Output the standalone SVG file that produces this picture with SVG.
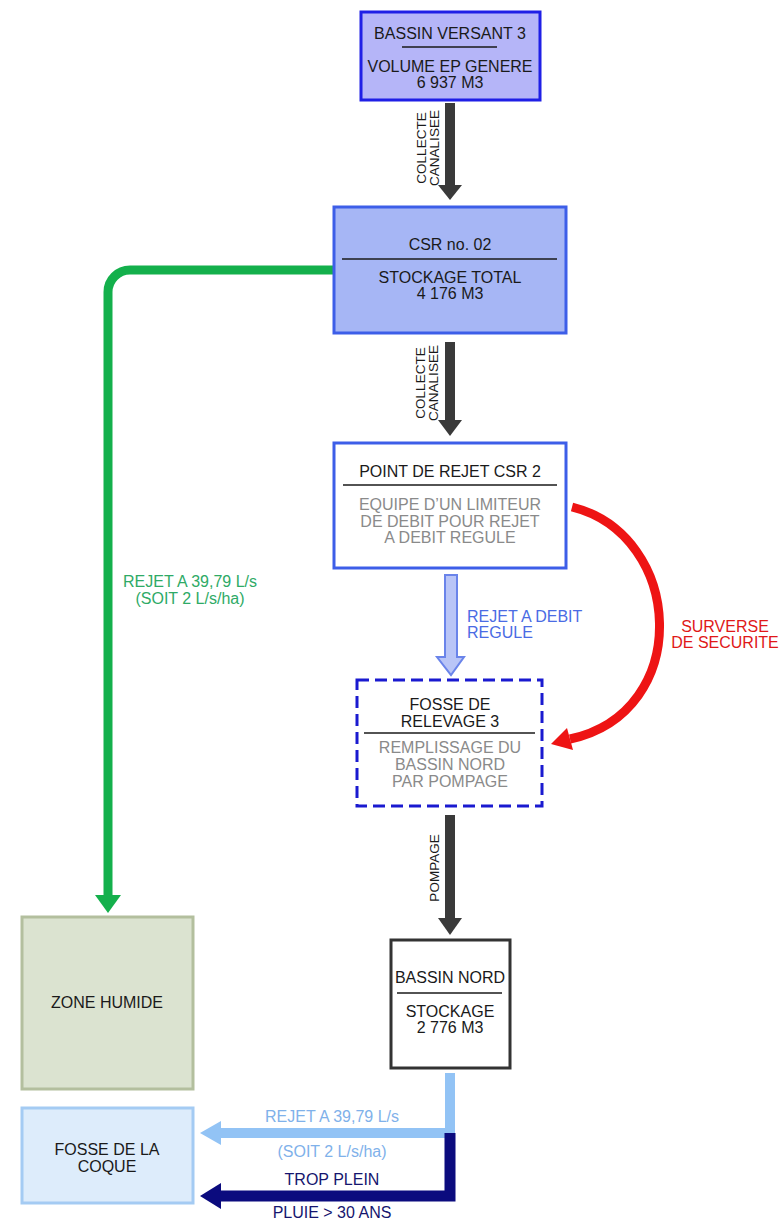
<svg xmlns="http://www.w3.org/2000/svg" width="783" height="1220" viewBox="0 0 783 1220">
<style>
text{font-family:"Liberation Sans",Arial,sans-serif;font-size:16px;text-anchor:middle;fill:#1a1a1a}
.g{fill:#8a8a8a}
.v{font-size:13.5px}
.sep{stroke:#1a1a1a;stroke-width:1.3}
.dark{fill:#3a3a3a}
</style>
<rect width="783" height="1220" fill="#ffffff"/>
<g id="connectors">
  <!-- collecte 1 -->
  <rect class="dark" x="445" y="103" width="10" height="83"/>
  <polygon class="dark" points="438,185 462,185 450,200"/>
  <text class="v" transform="translate(426,148) rotate(-90)">COLLECTE</text>
  <text class="v" transform="translate(439,148) rotate(-90)">CANALISEE</text>
  <!-- collecte 2 -->
  <rect class="dark" x="445" y="342" width="10" height="79"/>
  <polygon class="dark" points="438,420 462,420 450,436"/>
  <text class="v" transform="translate(425,383) rotate(-90)">COLLECTE</text>
  <text class="v" transform="translate(438,383) rotate(-90)">CANALISEE</text>
  <!-- rejet a debit regule -->
  <polygon points="445,575 457,575 457,657 464,657 451,675 437,657 445,657" fill="#b9c5f7" stroke="#6a84ea" stroke-width="2"/>
  <text x="467" y="622" style="text-anchor:start;fill:#4a6be4">REJET A DEBIT</text>
  <text x="467" y="638" style="text-anchor:start;fill:#4a6be4">REGULE</text>
  <!-- surverse -->
  <path d="M572,507 C684,535 694,712 570,739" fill="none" stroke="#ee1414" stroke-width="9"/>
  <polygon points="551,744 573,750 567,728" fill="#ee1414"/>
  <text x="725" y="632" style="fill:#e01818">SURVERSE</text>
  <text x="725" y="648" style="fill:#e01818">DE SECURITE</text>
  <!-- pompage -->
  <rect class="dark" x="445" y="815" width="10" height="104"/>
  <polygon class="dark" points="438,918 462,918 450,935"/>
  <text class="v" transform="translate(439,868) rotate(-90)">POMPAGE</text>
  <!-- green -->
  <path d="M334,270 H130 A22,22 0 0 0 108,292 V897" fill="none" stroke="#14b04c" stroke-width="9"/>
  <polygon points="95,895 121,895 108,913" fill="#14b04c"/>
  <text x="190" y="587" style="fill:#2eaa66">REJET A 39,79 L/s</text>
  <text x="190" y="604" style="fill:#2eaa66">(SOIT 2 L/s/ha)</text>
  <!-- light blue rejet -->
  <path d="M450,1073 V1133 H218" fill="none" stroke="#92c3f5" stroke-width="10"/>
  <polygon points="200,1133 221,1121 221,1145" fill="#92c3f5"/>
  <text x="332" y="1122" style="fill:#7fb1ea">REJET A 39,79 L/s</text>
  <text x="332" y="1157" style="fill:#7fb1ea">(SOIT 2 L/s/ha)</text>
  <!-- navy trop plein -->
  <path d="M450,1133 V1196 H218" fill="none" stroke="#0b0b7e" stroke-width="11"/>
  <polygon points="200,1196 221,1183 221,1209" fill="#0b0b7e"/>
  <text x="332" y="1185" style="fill:#15156e">TROP PLEIN</text>
  <text x="332" y="1218" style="fill:#15156e">PLUIE &gt; 30 ANS</text>
</g>
<g id="bassin-versant-3">
  <rect x="361" y="12" width="179" height="88" fill="#b5b5f8" stroke="#1f1fe6" stroke-width="3"/>
  <text x="450" y="39">BASSIN VERSANT 3</text>
  <line class="sep" x1="402" y1="47" x2="497" y2="47"/>
  <text x="450" y="72">VOLUME EP GENERE</text>
  <text x="450" y="88">6 937 M3</text>
</g>
<g id="csr-02">
  <rect x="334" y="207" width="232" height="126" fill="#a6b6f5" stroke="#3d5ee8" stroke-width="3"/>
  <text x="450" y="250">CSR no. 02</text>
  <line class="sep" x1="342" y1="259" x2="557" y2="259"/>
  <text x="450" y="283">STOCKAGE TOTAL</text>
  <text x="450" y="299">4 176 M3</text>
</g>
<g id="point-de-rejet">
  <rect x="334" y="443" width="232" height="125" fill="#ffffff" stroke="#3d5ee8" stroke-width="3"/>
  <text x="450" y="477">POINT DE REJET CSR 2</text>
  <line class="sep" x1="343" y1="485" x2="557" y2="485"/>
  <text class="g" x="450" y="510">EQUIPE D’UN LIMITEUR</text>
  <text class="g" x="450" y="527">DE DEBIT POUR REJET</text>
  <text class="g" x="450" y="543">A DEBIT REGULE</text>
</g>
<g id="fosse-relevage-3">
  <rect x="357" y="680" width="185" height="126" fill="#ffffff" stroke="#1a1ad0" stroke-width="3" stroke-dasharray="12,6"/>
  <text x="450" y="710">FOSSE DE</text>
  <text x="450" y="727">RELEVAGE 3</text>
  <line class="sep" x1="364" y1="733" x2="535" y2="733"/>
  <text class="g" x="450" y="753">REMPLISSAGE DU</text>
  <text class="g" x="450" y="770">BASSIN NORD</text>
  <text class="g" x="450" y="787">PAR POMPAGE</text>
</g>
<g id="bassin-nord">
  <rect x="391" y="940" width="119" height="128" fill="#ffffff" stroke="#333333" stroke-width="3"/>
  <text x="450" y="983">BASSIN NORD</text>
  <line class="sep" x1="397" y1="993" x2="502" y2="993"/>
  <text x="450" y="1017">STOCKAGE</text>
  <text x="450" y="1033">2 776 M3</text>
</g>
<g id="zone-humide">
  <rect x="22" y="917" width="171" height="172" fill="#dbe3d0" stroke="#b3bf9e" stroke-width="3"/>
  <text x="107" y="1008">ZONE HUMIDE</text>
</g>
<g id="fosse-coque">
  <rect x="22" y="1108" width="171" height="95" fill="#ddecfb" stroke="#a4cbf3" stroke-width="3"/>
  <text x="107" y="1155">FOSSE DE LA</text>
  <text x="107" y="1172">COQUE</text>
</g>
</svg>
